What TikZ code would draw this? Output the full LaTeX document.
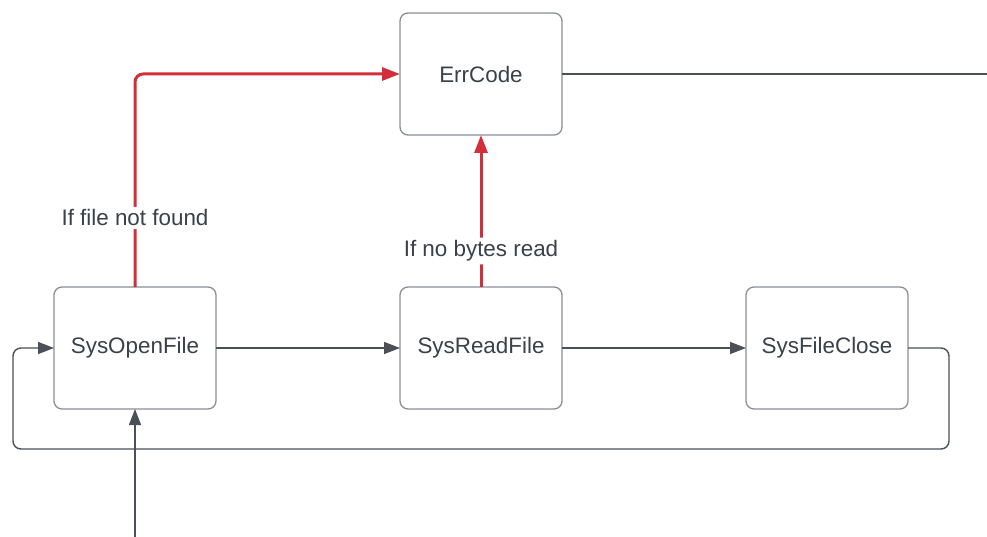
\documentclass[tikz,border=0pt]{standalone}
\usepackage{fontspec}
\setmainfont{Liberation Sans}
\usetikzlibrary{arrows.meta}
\definecolor{boxline}{HTML}{8A8F96}
\definecolor{ink}{HTML}{3A4149}
\definecolor{wire}{HTML}{4A5058}
\definecolor{alert}{HTML}{D12F3B}
\tikzset{
  proc/.style={draw=boxline, line width=1.3pt, rounded corners=8pt, fill=white,
    minimum width=162pt, minimum height=122pt, inner sep=0pt, outer sep=0pt,
    text=ink, font=\fontsize{22.4}{27}\selectfont},
  conn/.style={draw=wire, line width=1.4pt, rounded corners=8pt,
    -{Triangle[length=16pt,width=12pt]}},
  plain/.style={draw=wire, line width=1.4pt},
  errflow/.style={draw=alert, line width=3pt, rounded corners=8pt,
    -{Triangle[length=18pt,width=13pt]}},
  cond/.style={fill=white, text=ink, inner sep=3pt, font=\fontsize{22.4}{27}\selectfont}
}
\begin{document}
\begin{tikzpicture}[x=1pt,y=-1pt]
  \useasboundingbox (0,0) rectangle (987,537);

  % processing steps
  \node[proc] (err)   at (481,74)  {ErrCode};
  \node[proc] (open)  at (135,348) {SysOpenFile};
  \node[proc] (read)  at (481,348) {SysReadFile};
  \node[proc] (close) at (827,348) {SysFileClose};

  % loose ends
  \coordinate (entry) at (135,537);
  \coordinate (exit)  at (987,74);

  % normal flow
  \draw[conn] (entry) -- (open.south);
  \draw[conn] (open.east) -- (read.west);
  \draw[conn] (read.east) -- (close.west);
  \draw[conn] (close.east) -- (949,348) -- (949,449) -- (13,449) -- (13,348) -- (open.west);
  \draw[plain] (err.east) -- (exit);

  % error paths
  \draw[errflow] (open.north) |- (err.west)
    node[cond, pos=0.162] {If file not found};
  \draw[errflow] (read.north) -- (err.south)
    node[cond, pos=0.237] {If no bytes read};
\end{tikzpicture}
\end{document}
